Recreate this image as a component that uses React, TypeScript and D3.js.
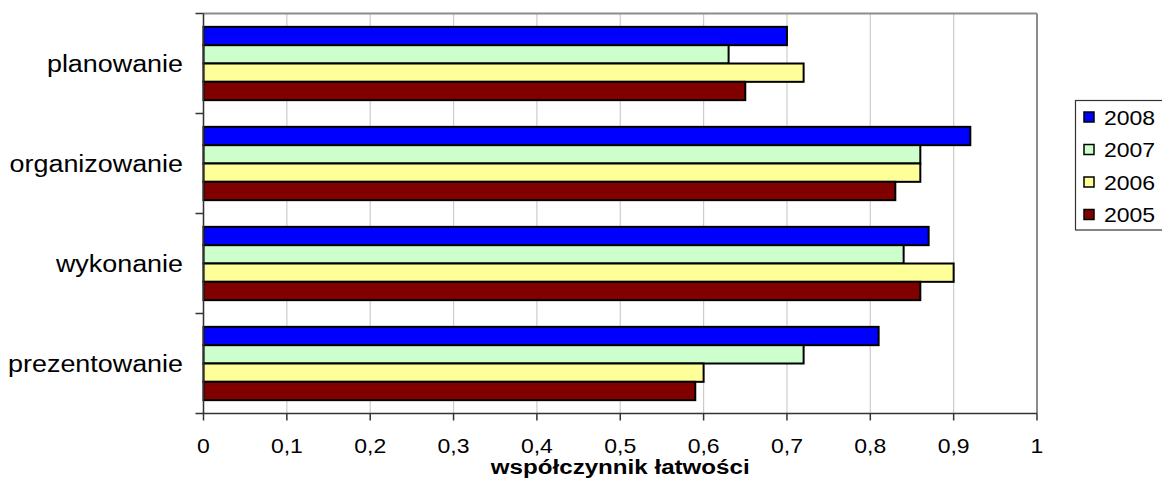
import React from "react";
import * as d3 from "d3";

const categories = ["planowanie", "organizowanie", "wykonanie", "prezentowanie"];
const seriesNames = ["2008", "2007", "2006", "2005"];
const seriesColors = ["#0000FF", "#CCFFCC", "#FFFF99", "#800000"];
const values2008 = [0.70, 0.92, 0.87, 0.81];
const values2007 = [0.63, 0.86, 0.84, 0.72];
const values2006 = [0.72, 0.86, 0.90, 0.60];
const values2005 = [0.65, 0.83, 0.86, 0.59];
const xTicks = [0, 0.1, 0.2, 0.3, 0.4, 0.5, 0.6, 0.7, 0.8, 0.9, 1];
const xTickLabels = ["0", "0,1", "0,2", "0,3", "0,4", "0,5", "0,6", "0,7", "0,8", "0,9", "1"];
const xAxisTitle = "współczynnik łatwości";

const seriesValues = [values2008, values2007, values2006, values2005];

const W = 1162;
const H = 479;
const left = 203.5;
const right = 1037;
const top = 13.5;
const bottom = 413.5;
const FONT = "'Liberation Sans', Arial, sans-serif";

function Txt(props: { x: number; y: number; anchor?: string; size?: number; sx?: number; bold?: boolean; children: React.ReactNode }) {
  const { x, y, anchor = "start", size = 20, sx = 1.15, bold = false, children } = props;
  return (
    <g transform={`translate(${x},${y}) scale(${sx},1)`}>
      <text x={0} y={0} textAnchor={anchor} fontSize={size} fontWeight={bold ? "bold" : "normal"} fontFamily={FONT} fill="#000">
        {children}
      </text>
    </g>
  );
}

export default function App() {
  const x = d3.scaleLinear().domain([0, 1]).range([left, right]);
  const y = d3.scaleBand<string>().domain(categories).range([top, bottom]).paddingInner(0.267).paddingOuter(0.1335);
  const inner = d3.scaleBand<string>().domain(seriesNames).range([0, y.bandwidth()]);
  const boundaries = d3.range(categories.length + 1).map((i) => top + i * y.step());

  return (
    <svg width={W} height={H} style={{ position: "absolute", left: 0, top: 0, display: "block" }}>
      <rect x={0} y={0} width={W} height={H} fill="#fff" />
      {xTicks.map((t) => (
        <line key={"g" + t} x1={x(t)} x2={x(t)} y1={top} y2={bottom} stroke="#cccccc" strokeWidth={1.2} />
      ))}
      <line x1={left} x2={right} y1={top} y2={top} stroke="#8c8c8c" strokeWidth={2} />
      <line x1={right} x2={right} y1={top} y2={bottom} stroke="#8c8c8c" strokeWidth={2} />
      {categories.map((c, ci) =>
        seriesNames.map((s, si) => {
          const v = seriesValues[si][ci];
          return (
            <rect
              key={c + s}
              x={x(0)}
              y={(y(c) as number) + (inner(s) as number)}
              width={x(v) - x(0)}
              height={inner.bandwidth()}
              fill={seriesColors[si]}
              stroke="#000"
              strokeWidth={2}
            />
          );
        })
      )}
      <line x1={left} x2={left} y1={top} y2={bottom} stroke="#333" strokeWidth={1.5} />
      <line x1={left - 1} x2={right} y1={bottom} y2={bottom} stroke="#333" strokeWidth={1.5} />
      {boundaries.map((b, i) => (
        <line key={"yt" + i} x1={left - 8} x2={left} y1={b} y2={b} stroke="#333" strokeWidth={1.5} />
      ))}
      {xTicks.map((t) => (
        <line key={"xt" + t} x1={x(t)} x2={x(t)} y1={bottom} y2={bottom + 7} stroke="#333" strokeWidth={1.5} />
      ))}
      {xTicks.map((t, i) => (
        <Txt key={"xl" + t} x={x(t)} y={452.5} anchor="middle">
          {xTickLabels[i]}
        </Txt>
      ))}
      {categories.map((c) => (
        <Txt key={"cl" + c} x={183} y={(y(c) as number) + y.bandwidth() / 2 + 8.5} anchor="end" size={23} sx={1.17}>
          {c}
        </Txt>
      ))}
      <Txt x={x(0.5)} y={474} anchor="middle" bold size={21}>
        {xAxisTitle}
      </Txt>
      <rect x={1075.5} y={100.5} width={100} height={129.5} fill="#fff" stroke="#333" strokeWidth={1.2} />
      {seriesNames.map((s, i) => (
        <g key={"lg" + s}>
          <rect x={1084} y={112 + i * 32.5} width={10} height={10} fill={seriesColors[i]} stroke="#000" strokeWidth={1.5} />
          <Txt x={1104} y={124.5 + i * 32.5}>{s}</Txt>
        </g>
      ))}
    </svg>
  );
}
